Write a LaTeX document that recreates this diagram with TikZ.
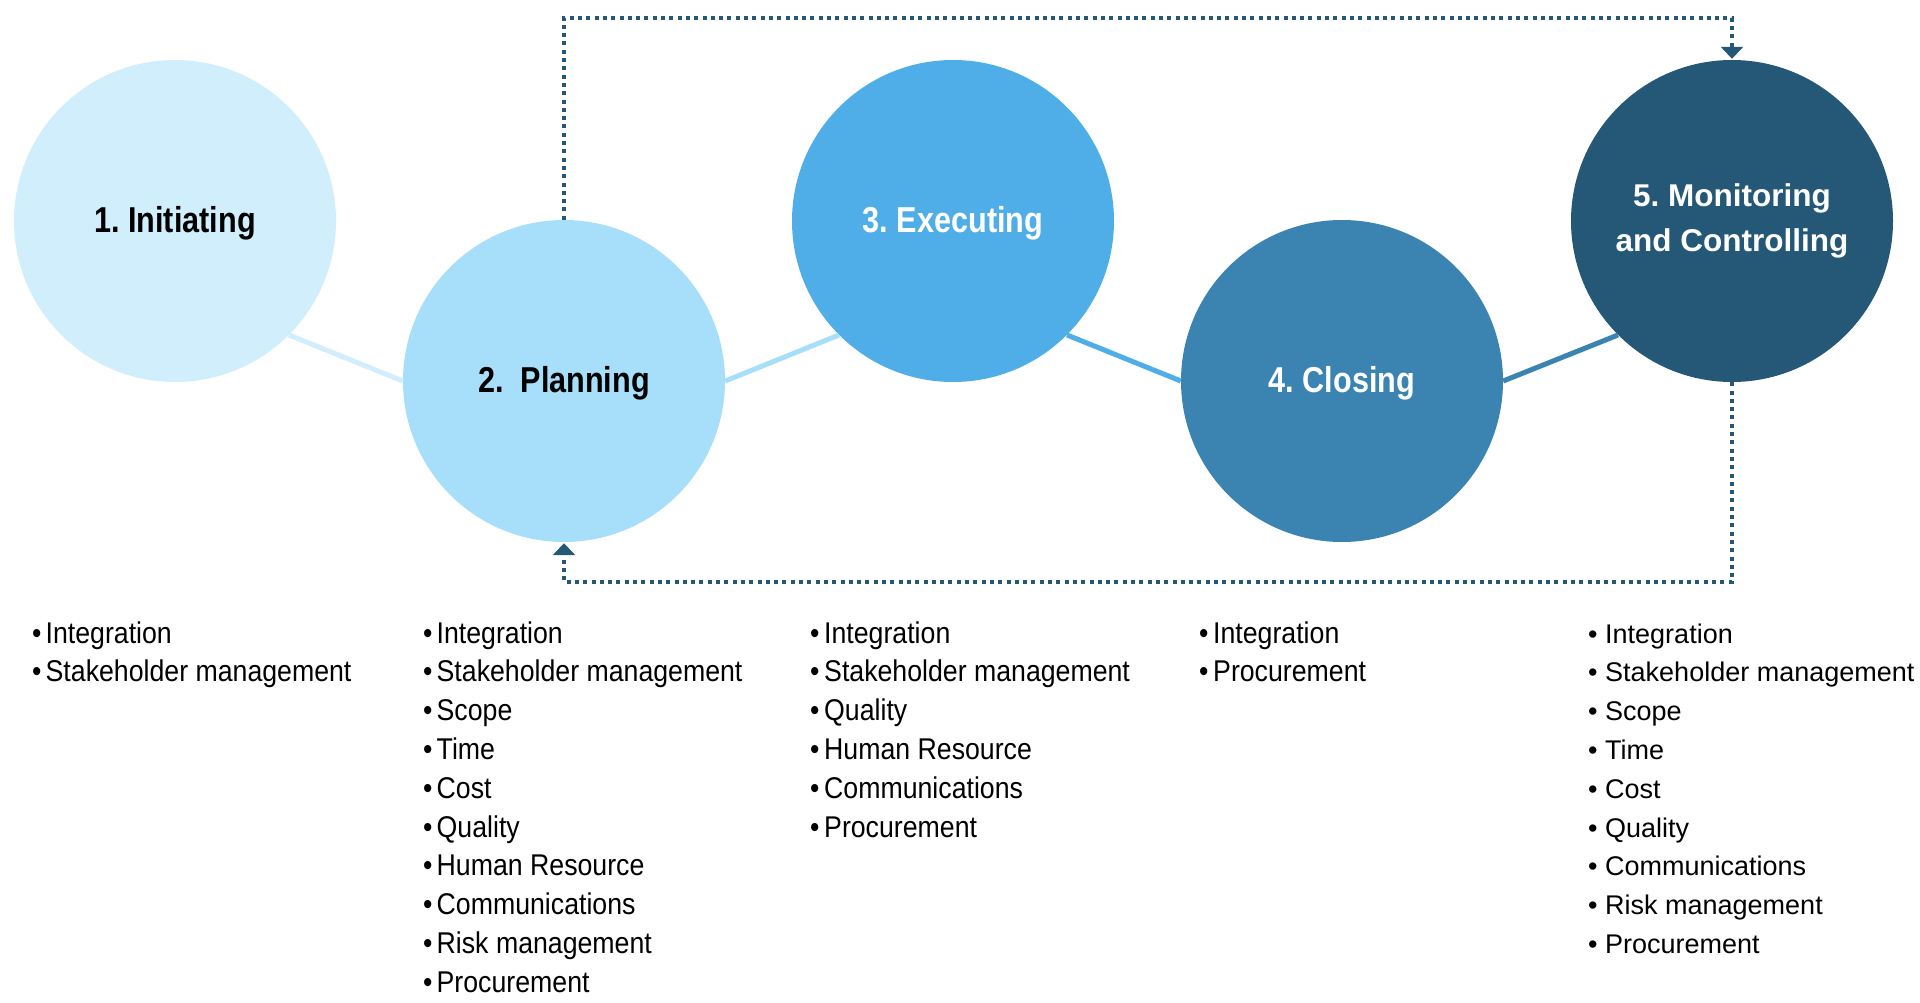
\documentclass[tikz,border=0pt]{standalone}
\usepackage{fontspec}
\setmainfont{Liberation Sans}
\newfontfamily\lblfont[FakeStretch=0.85]{Liberation Sans}
\newfontfamily\lstfont[FakeStretch=0.89]{Liberation Sans}
\usetikzlibrary{arrows.meta}
\frenchspacing
\definecolor{cA}{HTML}{D0EEFB}
\definecolor{cB}{HTML}{A7DFFA}
\definecolor{cC}{HTML}{4FAEE8}
\definecolor{cD}{HTML}{3B84B1}
\definecolor{cE}{HTML}{255877}
\begin{document}
\begin{tikzpicture}[x=1pt,y=-1pt,
  phase/.style={circle, minimum size=322pt, inner sep=0pt, align=center,
    font=\lblfont\bfseries\fontsize{36}{43}\selectfont},
  single/.style={text depth=3.6pt},
  conn/.style={line width=5pt},
  fb/.style={draw=cE, line width=4pt, dash pattern=on 4pt off 4.3pt,
    -{Triangle[width=22pt,length=12pt]}, shorten >=1pt},
  item/.style={anchor=base west, inner sep=0pt, font=\lstfont\fontsize{30}{36}\selectfont},
  itemR/.style={anchor=base west, inner sep=0pt, font=\fontsize{27}{32}\selectfont}]
\useasboundingbox (0,0) rectangle (1920,1003);

% phases
\node[phase, single, fill=cA, text=black] (p1) at (175,221) {1. Initiating};
\node[phase, single, fill=cB, text=black] (p2) at (564,381) {2.~~Planning};
\node[phase, single, fill=cC, text=white] (p3) at (953,221) {3. Executing};
\node[phase, single, fill=cD, text=white] (p4) at (1342,381) {4. Closing};
\node[phase, fill=cE, text=white, font=\bfseries\fontsize{31.5}{45}\selectfont] (p5) at (1732,221) {5. Monitoring\\and Controlling};

% connectors
\draw[conn, cA] (p1.-45) -- (p2.west);
\draw[conn, cB] (p2.east) -- (p3.225);
\draw[conn, cC] (p3.-45) -- (p4.west);
\draw[conn, cD] (p4.east) -- (p5.225);

% feedback loops
\coordinate (top) at (0,18);
\coordinate (bot) at (0,582);
\draw[fb] (p2.north) -- (p2.north |- top) -- (p5.north |- top) -- (p5.north);
\draw[fb] (p5.south) -- (p5.south |- bot) -- (p2.south |- bot) -- (p2.south);

% lists
\foreach \t [count=\i] in {Integration, Stakeholder management}
  \node[item] (la\i) at (32,{643+38.8*(\i-1)}) {\makebox[13.5pt][l]{•}\t};
\foreach \t [count=\i] in {Integration, Stakeholder management, Scope, Time, Cost, Quality, Human Resource, Communications, Risk management, Procurement}
  \node[item] (lb\i) at (423,{643+38.8*(\i-1)}) {\makebox[13.5pt][l]{•}\t};
\foreach \t [count=\i] in {Integration, Stakeholder management, Quality, Human Resource, Communications, Procurement}
  \node[item] (lc\i) at (810,{643+38.8*(\i-1)}) {\makebox[14pt][l]{•}\t};
\foreach \t [count=\i] in {Integration, Procurement}
  \node[item] (ld\i) at (1199,{643+38.8*(\i-1)}) {\makebox[14pt][l]{•}\t};
\foreach \t [count=\i] in {Integration, Stakeholder management, Scope, Time, Cost, Quality, Communications, Risk management, Procurement}
  \node[itemR] (le\i) at (1588,{643+38.8*(\i-1)}) {\makebox[17pt][l]{•}\t};
\end{tikzpicture}
\end{document}
